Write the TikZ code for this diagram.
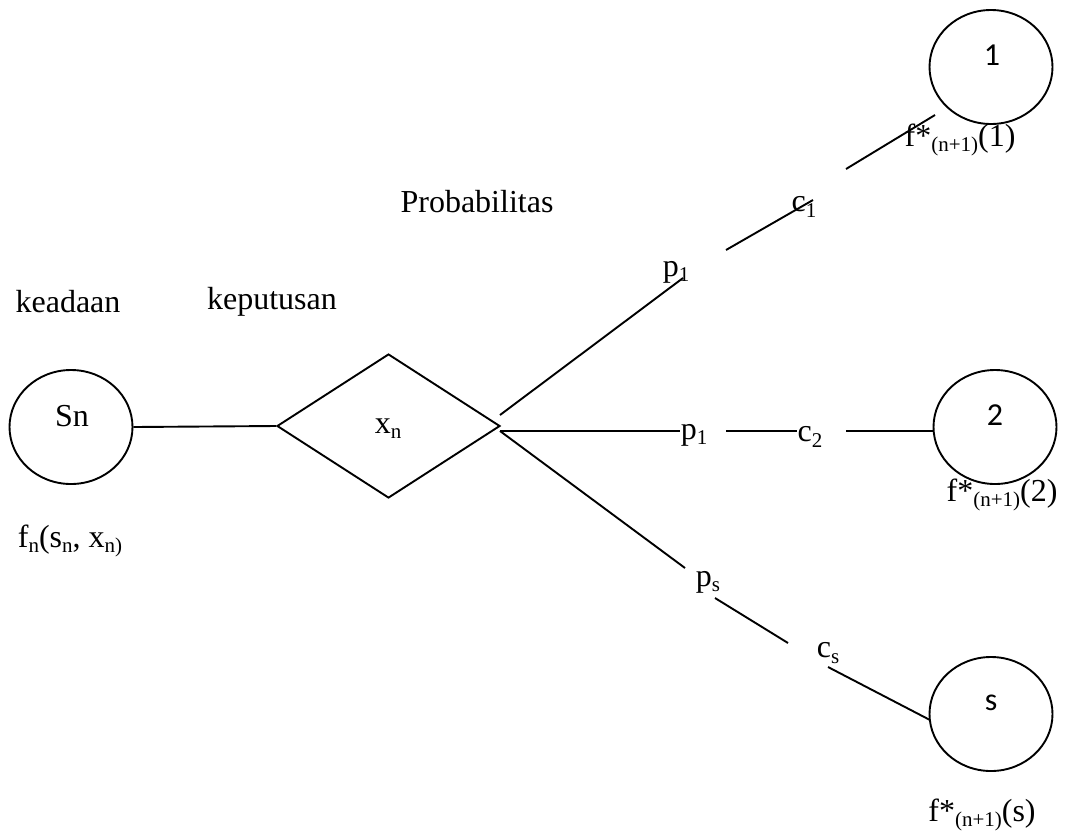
\documentclass[tikz,border=0pt]{standalone}
\usepackage{fontspec}
\setmainfont{Liberation Serif}
\newfontfamily\calib{Carlito}
\usetikzlibrary{shapes.geometric}
\newcommand\subx[1]{\raisebox{-0.35ex}{\fontsize{21}{21}\selectfont #1}}
\begin{document}
\begin{tikzpicture}[x=1pt,y=-1pt,
  every node/.style={inner sep=0pt, font=\fontsize{32}{38}\selectfont},
  ln/.style={line width=1.9pt},
  state/.style={ellipse, draw, ln, minimum width=123pt, minimum height=114pt},
  decision/.style={diamond, draw, ln, minimum width=223pt, minimum height=144pt},
  num/.style={font=\calib\fontsize{32}{36}\selectfont}]
\useasboundingbox (0,0) rectangle (1065,831);

% nodes
\node[state] (sn) at (71,427) {};
\node (snl) at (72,416) {Sn};
\node[decision] (dm) at (388.5,426) {};
\node (xnl) at (388,429) {x\subx{n}};
\node[state] (s1) at (991,67) {};
\node[num] (s1l) at (992,55) {1};
\node[state] (s2) at (995,427) {};
\node[num] (s2l) at (995,415) {2};
\node[state] (ss) at (991,714) {};
\node[num] (ssl) at (991,703) {s};

% texts
\node (keadaan) at (68,302) {keadaan};
\node (keputusan) at (272,302) {keputusan};
\node (prob) at (477,202) {Probabilitas};
\node (fn) at (70,541) {f\subx{n}(s\subx{n}, x\subx{n)}};
\node (f1) at (960,140) {f*\subx{(n+1)}(1)};
\node (f2) at (1002,495) {f*\subx{(n+1)}(2)};
\node (fs) at (982,815) {f*\subx{(n+1)}(s)};
\node (p1a) at (676,272) {p\subx{1}};
\node (c1) at (804,207) {c\subx{1}};
\node (p1b) at (694,435) {p\subx{1}};
\node (c2) at (810,437) {c\subx{2}};
\node (ps) at (708,582) {p\subx{s}};
\node (cs) at (828,653) {c\subx{s}};

% segment coordinates
\coordinate (u0) at (500,415);
\coordinate (u1) at (683,278);
\coordinate (u2) at (726,250);
\coordinate (u3) at (813,200);
\coordinate (u4) at (846,169);
\coordinate (u5) at (935,115);
\coordinate (m0) at (500,431);
\coordinate (m1) at (680,431);
\coordinate (m2) at (726,431);
\coordinate (m3) at (797,431);
\coordinate (m4) at (846,431);
\coordinate (m5) at (933,431);
\coordinate (l1) at (685,568);
\coordinate (l2) at (715,598);
\coordinate (l3) at (788,643);
\coordinate (l4) at (828,667);
\coordinate (l5) at (930,720);

% connectors
\draw[ln] (sn.east) -- (dm.west);
\draw[ln] (u0) -- (u1);
\draw[ln] (u2) -- (u3);
\draw[ln] (u4) -- (u5);
\draw[ln] (m0) -- (m1);
\draw[ln] (m2) -- (m3);
\draw[ln] (m4) -- (m5);
\draw[ln] (m0) -- (l1);
\draw[ln] (l2) -- (l3);
\draw[ln] (l4) -- (l5);
\end{tikzpicture}
\end{document}
